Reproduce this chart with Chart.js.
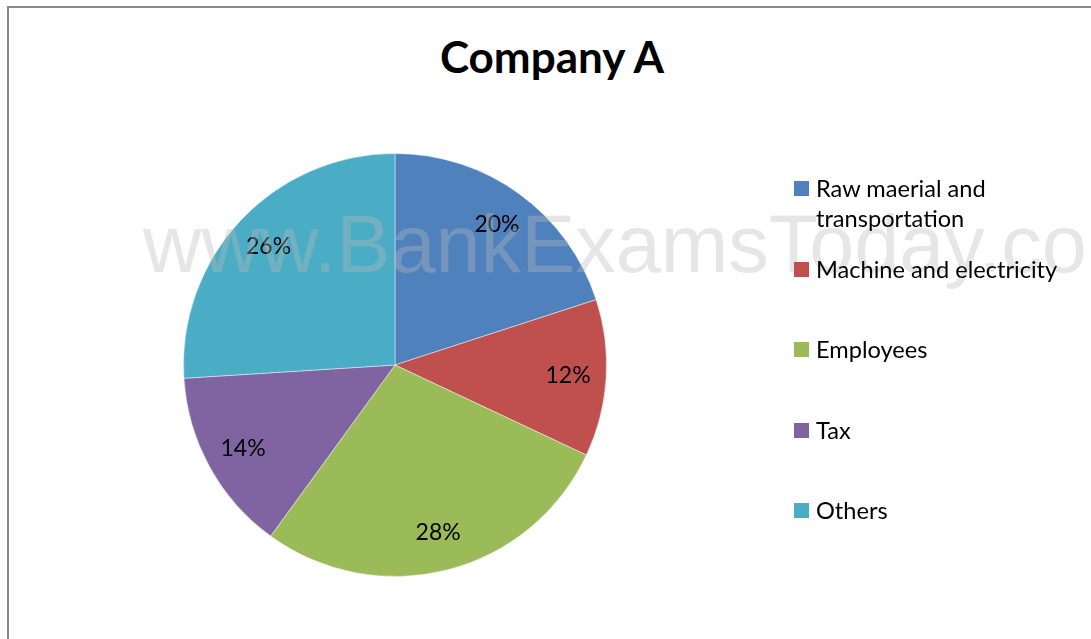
<!DOCTYPE html>
<html>
<head>
<meta charset="utf-8">
<script src="https://cdn.jsdelivr.net/npm/chart.js@4.4.1/dist/chart.umd.min.js"></script>
<style>
  html, body { margin: 0; padding: 0; background: #fff; }
  body { width: 1091px; height: 639px; position: relative; overflow: hidden; font-family: Lato, "Noto Sans", sans-serif; }
  .frame { position: absolute; left: 7px; top: 6px; right: -5px; bottom: -5px; border-top: 2px solid #8a8a8a; border-left: 2px solid #8a8a8a; }
  #titre { position: absolute; left: 0; width: 1104px; top: 30px; text-align: center; font-weight: bold; font-size: 44px; color: #000; }
  canvas { position: absolute; left: 0; top: 0; }
  .legende { position: absolute; left: 794px; top: 0; }
  .item { position: absolute; left: 0; width: 300px; display: flex; align-items: flex-start; }
  .carre { width: 15px; height: 15px; margin-top: 8px; flex: none; }
  .texte { margin-left: 7px; width: 270px; font-size: 23.6px; line-height: 30px; color: #000; }
</style>
</head>
<body>
<div class="frame"></div>
<div id="titre">Company A</div>
<canvas id="myChart" width="1091" height="639"></canvas>
<div class="legende" id="legende"></div>
<script>
// Catégories et parts (en %)
var categories = ['Raw maerial and transportation', 'Machine and electricity', 'Employees', 'Tax', 'Others'];
var parts = [20, 12, 28, 14, 26];
var couleurs = ['#4F81BD', '#C0504D', '#9BBB59', '#8064A2', '#4BACC6'];

// Étiquettes de pourcentage dans chaque part
var etiquettesPlugin = {
    id: 'etiquettes',
    afterDatasetsDraw: function (chart) {
        var ctx = chart.ctx;
        var meta = chart.getDatasetMeta(0);
        ctx.save();
        ctx.font = '23px Lato, "Noto Sans", sans-serif';
        ctx.fillStyle = '#000';
        ctx.textAlign = 'center';
        ctx.textBaseline = 'middle';
        meta.data.forEach(function (arc, i) {
            var p = arc.getProps(['x', 'y', 'startAngle', 'endAngle', 'outerRadius'], true);
            var milieu = (p.startAngle + p.endAngle) / 2;
            var r = p.outerRadius * 0.82;
            ctx.fillText(parts[i] + '%', p.x + Math.cos(milieu) * r, p.y + Math.sin(milieu) * r);
        });
        ctx.restore();
    }
};

// Filigrane par-dessus le graphique
var filigranePlugin = {
    id: 'filigrane',
    afterDraw: function (chart) {
        var ctx = chart.ctx;
        ctx.save();
        ctx.font = '81px "Liberation Sans", Arial, sans-serif';
        ctx.fillStyle = 'rgba(185, 185, 185, 0.36)';
        ctx.textBaseline = 'alphabetic';
        ctx.fillText('www.BankExamsToday.com', 143, 272);
        ctx.restore();
    }
};

var ctx = document.getElementById('myChart').getContext('2d');
var myChart = new Chart(ctx, {
    type: 'pie',
    data: {
        labels: categories,
        datasets: [{
            data: parts,
            backgroundColor: couleurs,
            borderColor: 'rgba(255, 255, 255, 0.45)',
            borderWidth: 1
        }]
    },
    options: {
        responsive: false,
        animation: false,
        layout: { padding: { left: 183, right: 484, top: 153, bottom: 62 } },
        plugins: {
            legend: { display: false },
            tooltip: { enabled: false }
        }
    },
    plugins: [etiquettesPlugin, filigranePlugin]
});

// Légende à droite
var legende = document.getElementById('legende');
categories.forEach(function (nom, i) {
    var item = document.createElement('div');
    item.className = 'item';
    item.style.top = (173 + i * 80.5) + 'px';
    var carre = document.createElement('div');
    carre.className = 'carre';
    carre.style.background = couleurs[i];
    var texte = document.createElement('div');
    texte.className = 'texte';
    texte.textContent = nom;
    item.appendChild(carre);
    item.appendChild(texte);
    legende.appendChild(item);
});
</script>
</body>
</html>
